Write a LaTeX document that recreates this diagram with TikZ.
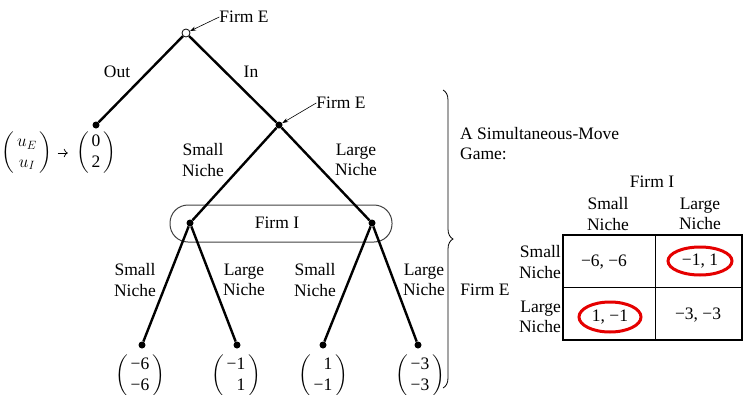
\documentclass[tikz,border=0pt]{standalone}
\usepackage{amsmath}
\usepackage{fontspec}
\setmainfont{Liberation Serif}
\usetikzlibrary{arrows.meta,decorations.pathreplacing,shapes.geometric}
\newcommand{\payvec}[2]{$\left(\begin{array}{@{\,}r@{\,}}\text{#1}\\\text{#2}\end{array}\right)$}
\tikzset{
  branch/.style={line width=2.4pt},
  dot/.style={circle,fill,inner sep=0pt,minimum size=7pt},
  opendot/.style={circle,draw,fill=white,line width=0.8pt,inner sep=0pt,minimum size=8pt},
  lbl/.style={align=center,inner sep=0pt},
  pointer/.style={-{Stealth[length=6pt,width=4pt]},line width=0.6pt},
  infoset/.style={draw=black!75,line width=1pt,rounded corners=18pt},
  pick/.style={ellipse,draw=red!90!black,line width=3pt,inner sep=0pt},
  grid/.style={line width=1pt}
}
\begin{document}
\begin{tikzpicture}[x=1pt,y=-1pt,font=\fontsize{17.5}{20.5}\selectfont]
  \useasboundingbox (0,0) rectangle (745,394);
  % information set of firm I
  \draw[infoset] (170,205) rectangle (392,242);
  \node[lbl] (firmi) at (277,223) {Firm I};
  % decision nodes
  \node[opendot] (root) at (186,33) {};
  \node[dot] (out) at (96,125) {};
  \node[dot] (ein) at (279,125) {};
  \node[dot] (ismall) at (190,223) {};
  \node[dot] (ilarge) at (372,223) {};
  \node[dot] (ss) at (142,345) {};
  \node[dot] (sl) at (237,345) {};
  \node[dot] (ls) at (323,345) {};
  \node[dot] (ll) at (418,345) {};
  % branches
  \draw[branch] (root) -- (out);
  \draw[branch] (root) -- (ein);
  \draw[branch] (ein) -- (ismall);
  \draw[branch] (ein) -- (ilarge);
  \draw[branch] (ismall) -- (ss);
  \draw[branch] (ismall) -- (sl);
  \draw[branch] (ilarge) -- (ls);
  \draw[branch] (ilarge) -- (ll);
  % branch labels
  \node[lbl] (outlbl) at (117,72) {Out};
  \node[lbl] (inlbl) at (251,72) {In};
  \node[lbl] (esmall) at (203,160) {Small\\Niche};
  \node[lbl] (elarge) at (356,160) {Large\\Niche};
  \node[lbl] (ssl) at (135,280) {Small\\Niche};
  \node[lbl] (sll) at (244,280) {Large\\Niche};
  \node[lbl] (lsl) at (315,280) {Small\\Niche};
  \node[lbl] (lll) at (424,280) {Large\\Niche};
  % players
  \node[lbl] (firme) at (244,17) {Firm E};
  \draw[pointer] (firme.west) -- (root);
  \node[lbl] (firmein) at (341,103) {Firm E};
  \draw[pointer] (firmein.west) -- (ein);
  % payoffs
  \node[inner sep=0pt] (util) at (27,153) {$\left(\begin{array}{@{\,}c@{\,}}u_E\\u_I\end{array}\right)$};
  \node[inner sep=0pt] (payout) at (96,153) {\payvec{0}{2}};
  \draw[-{To[length=4pt]},line width=0.7pt,shorten <=5pt,shorten >=8pt] (util) -- (payout);
  \node (pss) at (140,376) {\payvec{−6}{−6}};
  \node (psl) at (236,376) {\payvec{−1}{1}};
  \node (pls) at (323,376) {\payvec{1}{−1}};
  \node (pll) at (420,376) {\payvec{−3}{−3}};
  % brace
  \draw[decorate,decoration={brace,amplitude=10pt},line width=0.8pt] (443,90) -- (443,388);
  % simultaneous-move game
  \node[lbl,anchor=north west,align=left] (title) at (460,127) {A Simultaneous-Move\\Game:};
  \node[lbl] (colplayer) at (652,182) {Firm I};
  \node[lbl] (colsmall) at (608,214) {Small\\Niche};
  \node[lbl] (collarge) at (700,214) {Large\\Niche};
  \node[lbl,anchor=east,align=right] (rowsmall) at (561,262) {Small\\Niche};
  \node[lbl,anchor=east,align=right] (rowlarge) at (561,317) {Large\\Niche};
  \node[lbl] (rowplayer) at (485,290) {Firm E};
  \draw[line width=2pt] (563,235) rectangle (742,340);
  \draw[grid] (655,235) -- (655,340);
  \draw[grid] (563,287) -- (742,287);
  \node[lbl] (cellss) at (604,262) {−6, −6};
  \node[pick,minimum width=64pt,minimum height=28pt] (cellsl) at (700,261) {−1, 1};
  \node[pick,minimum width=62pt,minimum height=30pt] (cellls) at (610,317) {1, −1};
  \node[lbl] (cellll) at (698,315) {−3, −3};
\end{tikzpicture}
\end{document}
